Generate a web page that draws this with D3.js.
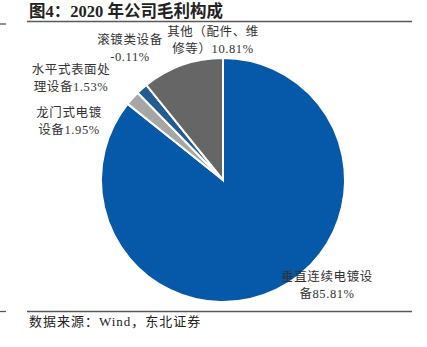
<!DOCTYPE html>
<html>
<head>
<meta charset="utf-8">
<script src="https://cdn.jsdelivr.net/npm/d3@7"></script>
<style>
  body { margin: 0; background: #fff; }
  text { font-family: "Liberation Serif", "Times New Roman", "Noto Sans CJK SC", serif; }
</style>
</head>
<body>
<svg id="chart"></svg>
<script>
/* data */
var categories = ["垂直连续电镀设备", "龙门式电镀设备", "水平式表面处理设备", "滚镀类设备", "其他（配件、维修等）"];
var values = [85.81, 1.95, 1.53, -0.11, 10.81];
var labelLines = [
    ["垂直连续电镀设", "备85.81%"],
    ["龙门式电镀", "设备1.95%"],
    ["水平式表面处", "理设备1.53%"],
    ["滚镀类设备", "-0.11%"],
    ["其他（配件、维", "修等）10.81%"]
];
var colors = ["#0559A8", "#A6A6A6", "#235B93", "none", "#666666"];

/* label anchor points (centre of text block) */
var labelPos = [[327, 277], [69, 113], [71, 70], [130, 40], [213, 32]];

var W = 427, H = 347;
var cx = 223, cy = 180, R = 122;

var svg = d3.select('#chart')
    .attr('width', W)
    .attr('height', H);

/* title + rules */
svg.append('text')
    .attr('x', 29).attr('y', 17)
    .attr('font-size', '16.5px')
    .attr('font-weight', 'bold')
    .attr('fill', '#222')
    .text('图4：2020 年公司毛利构成');

svg.append('line').attr('x1', 27).attr('x2', 412).attr('y1', 21.5).attr('y2', 21.5)
    .attr('stroke', '#595959').attr('stroke-width', 1.3);
svg.append('line').attr('x1', 0).attr('x2', 6).attr('y1', 24).attr('y2', 24)
    .attr('stroke', '#595959').attr('stroke-width', 1.3);
svg.append('line').attr('x1', 27).attr('x2', 412).attr('y1', 311.5).attr('y2', 311.5)
    .attr('stroke', '#595959').attr('stroke-width', 1.3);
svg.append('line').attr('x1', 0).attr('x2', 6).attr('y1', 311.5).attr('y2', 311.5)
    .attr('stroke', '#595959').attr('stroke-width', 1.3);

svg.append('text')
    .attr('x', 29).attr('y', 326)
    .attr('font-size', '13px')
    .attr('letter-spacing', '1px')
    .attr('fill', '#222')
    .text('数据来源：Wind，东北证券');

/* pie */
var rows = categories.map((c, i) => ({name: c, value: values[i], color: colors[i], lines: labelLines[i], pos: labelPos[i]}));

var pie = d3.pie()
    .sort(null)
    .value(d => Math.max(d.value, 0));

var arc = d3.arc().innerRadius(0).outerRadius(R);

var g = svg.append('g').attr('transform', `translate(${cx},${cy})`);

g.selectAll('path')
    .data(pie(rows).filter(d => d.data.value > 0))
    .enter()
    .append('path')
    .attr('d', arc)
    .attr('fill', d => d.data.color)
    .attr('stroke', '#fff')
    .attr('stroke-width', 2);

/* labels */
var lab = svg.selectAll('text.lbl')
    .data(rows)
    .enter()
    .append('text')
    .attr('class', 'lbl')
    .attr('text-anchor', 'middle')
    .attr('font-size', '12.5px')
    .attr('letter-spacing', '0.6px')
    .attr('fill', '#333');

lab.selectAll('tspan')
    .data(d => d.lines.map((t, j) => ({t: t, x: d.pos[0], y: d.pos[1] + j * 17 + 4})))
    .enter()
    .append('tspan')
    .attr('x', d => d.x)
    .attr('y', d => d.y)
    .text(d => d.t);
</script>
</body>
</html>
